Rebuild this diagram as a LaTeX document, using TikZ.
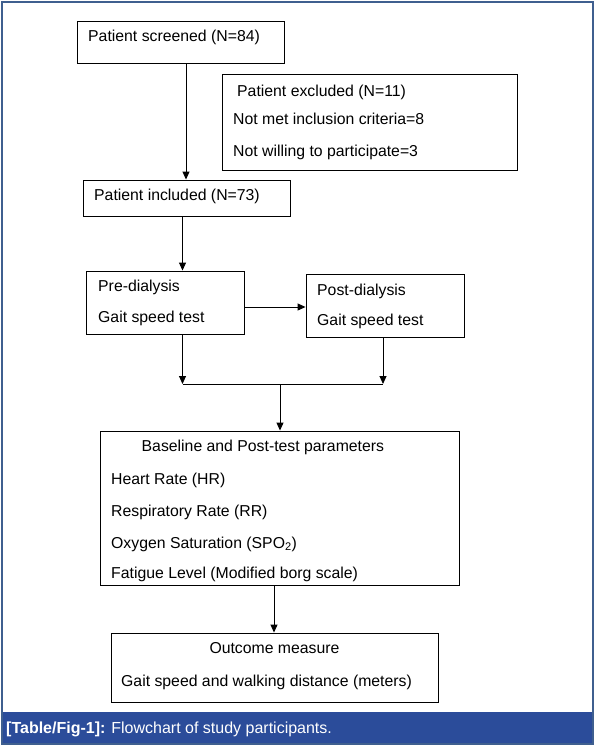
\documentclass[tikz,border=0pt]{standalone}
\usepackage{fontspec}
\setmainfont{Liberation Sans}
\usetikzlibrary{arrows.meta}
\definecolor{framecol}{HTML}{3F5F8F}
\definecolor{capblue}{HTML}{2B4C9A}
\tikzset{
  box/.style={draw=black, line width=0.9pt, inner sep=0pt, rectangle},
  txt/.style={anchor=base west, inner sep=0pt, font=\fontsize{15.8}{18}\selectfont},
  ctxt/.style={anchor=base, inner sep=0pt, font=\fontsize{15.8}{18}\selectfont},
  arr/.style={line width=1pt, -{Triangle[length=8pt,width=7pt]}},
  ln/.style={line width=1pt}
}
\begin{document}
\begin{tikzpicture}[x=1pt,y=-1pt]
\useasboundingbox (0,0) rectangle (595,746);
\fill[white] (0,0) rectangle (595,746);
% caption bar and frame
\fill[capblue] (2,711.5) rectangle (593,744);
\draw[framecol, line width=1.4pt] (2,2) rectangle (593,744);
\node[anchor=base west, inner sep=0pt, text=white, font=\fontsize{16}{18}\selectfont] (cap) at (6,733.5) {\textbf{[Table/Fig-1]:} Flowchart of study participants.};
% boxes
\node[box, minimum width=207pt, minimum height=42pt] (scr) at (180.5,42) {};
\node[box, minimum width=295pt, minimum height=96pt] (exc) at (369.5,122) {};
\node[box, minimum width=207pt, minimum height=36pt] (inc) at (186.5,198) {};
\node[box, minimum width=157.5pt, minimum height=63pt] (pre) at (165.25,302.5) {};
\node[box, minimum width=158pt, minimum height=63pt] (post) at (385,305.5) {};
\node[box, minimum width=359pt, minimum height=154pt] (base) at (279.5,508) {};
\node[box, minimum width=327pt, minimum height=69pt] (out) at (274.5,667.5) {};
% texts
\node[txt] (t1) at (88,42) {Patient screened (N=84)};
\node[txt] (t2) at (237,97) {Patient excluded (N=11)};
\node[txt] (t3) at (233,125) {Not met inclusion criteria=8};
\node[txt] (t4) at (233,157) {Not willing to participate=3};
\node[txt] (t5) at (94,200.5) {Patient included (N=73)};
\node[txt] (t6) at (98,291.5) {Pre-dialysis};
\node[txt] (t7) at (98,322) {Gait speed test};
\node[txt] (t8) at (317,295) {Post-dialysis};
\node[txt] (t9) at (317,325) {Gait speed test};
\node[txt] (t10) at (141.5,451) {Baseline and Post-test parameters};
\node[txt] (t11) at (111,484) {Heart Rate (HR)};
\node[txt] (t12) at (111,516.5) {Respiratory Rate (RR)};
\node[txt] (t13) at (111,548) {Oxygen Saturation (SPO\textsubscript{2})};
\node[txt] (t14) at (111,578) {Fatigue Level (Modified borg scale)};
\node[ctxt] (t15) at (274.5,653) {Outcome measure};
\node[txt] (t16) at (121,686) {Gait speed and walking distance (meters)};
% connectors
\coordinate (c1) at (186,0);
\coordinate (c2) at (182.5,0);
\coordinate (h) at (0,307);
\coordinate (j1) at (182.5,384);
\coordinate (j2) at (383,384);
\coordinate (jm) at (280,384);
\coordinate (c3) at (274,0);
\draw[arr] (scr.south -| c1) -- (inc.north -| c1);
\draw[arr] (inc.south -| c2) -- (pre.north -| c2);
\draw[arr] (pre.east |- h) -- (post.west |- h);
\draw[arr] (pre.south -| j1) -- (j1);
\draw[arr] (post.south -| j2) -- (j2);
\draw[ln] (j1) -- (j2);
\draw[arr] (jm) -- (base.north -| jm);
\draw[arr] (base.south -| c3) -- (out.north -| c3);
\end{tikzpicture}
\end{document}
